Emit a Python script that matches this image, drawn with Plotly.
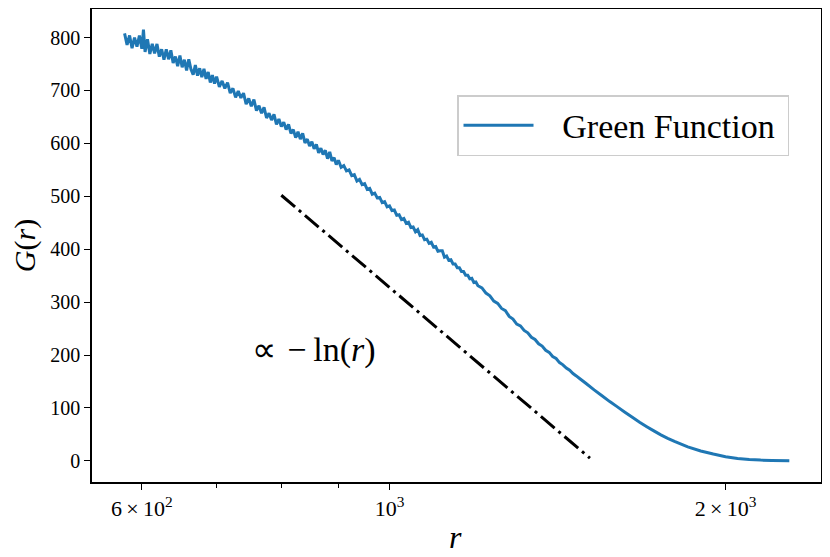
import plotly.graph_objects as go

# Green function samples
r_vals = [579, 582, 585, 588, 591, 594, 597, 600, 602, 604, 607, 610, 613, 616, 619, 622, 625, 628, 631, 634,
          637, 640, 643, 646, 649, 652, 655, 658, 661, 664, 667, 670, 673, 676, 679, 682, 685, 688, 691, 694,
          697, 700,
          704, 708, 712, 716, 720, 724, 728, 732, 736, 740, 744, 748, 752, 756, 760, 764, 768, 772, 776, 780,
          784, 788, 792, 796, 800, 804, 808, 812, 816, 820, 824, 828, 832, 836, 840, 844, 848, 852, 856, 860,
          864, 868, 872, 876, 880, 884, 888, 892, 896, 900,
          905, 910, 915, 920, 925, 930, 935, 940, 945, 950, 955, 960, 965, 970, 975, 980, 985, 990, 995, 1000,
          1005, 1010, 1015, 1020, 1025, 1030, 1035, 1040, 1045, 1050, 1055, 1060, 1065, 1070, 1075, 1080, 1085,
          1090, 1095, 1100, 1105, 1110, 1115, 1120, 1125, 1130, 1135, 1140, 1145, 1150, 1155, 1160, 1165, 1170,
          1175, 1180, 1185, 1190, 1195, 1200,
          1210, 1220, 1230, 1240, 1250, 1260, 1270, 1280, 1290, 1300, 1310, 1320, 1330, 1340, 1350, 1360, 1370,
          1380, 1390, 1400, 1410, 1420, 1430, 1440, 1450, 1460, 1470, 1480, 1490, 1500,
          1525, 1550, 1575, 1600, 1625, 1650, 1675, 1700, 1725, 1750, 1775, 1800, 1850, 1900, 1950, 2000, 2050,
          2100, 2150, 2200, 2281]
g_vals = [808, 786, 804, 780, 800, 783, 804, 779, 815, 773, 797, 769, 788, 770, 788, 764, 778, 758, 778, 759,
          776, 752, 764, 746, 766, 744, 758, 738, 759, 740, 730, 748, 728, 742, 725, 741, 722, 735, 715, 729,
          713, 726,
          707, 718, 704, 715, 695, 704, 687, 699, 686, 695, 674, 685, 670, 683, 662, 671, 657, 668, 648, 657,
          644, 655, 636, 646, 632, 640, 626, 636, 619, 626, 611, 622, 608, 619, 601, 608, 595, 603, 590, 598,
          582, 591, 579, 587, 571, 584, 567, 573, 560, 568,
          555, 558, 548, 550, 539, 541, 529, 532, 522, 524, 513, 515, 504, 506, 497, 498, 488, 490, 480, 482,
          473, 474, 464, 465, 456, 458, 449, 451, 441, 442, 433, 437, 426, 427, 418, 419, 411,
          413, 404, 405, 396, 397, 397, 385, 387, 379, 380, 372, 372, 365, 365, 358, 358, 351,
          351, 344, 345, 337, 338, 331,
          327, 317, 312, 302, 297.5, 288, 284, 273, 268, 258.5, 255, 246.4, 242, 233.5, 229.4, 221.2, 217,
          209, 205, 197.2, 193.5, 185.7, 181.5, 175.4, 171.2, 165.1, 160.5, 155.7, 150.9, 146.1,
          134.2, 123.1, 112, 102, 92, 82.5, 73.1, 64.6, 56.6, 49, 42.5, 36.6, 26.5, 18.7, 12.8, 7.8, 4.6,
          2.6, 1.4, 0.8, 0.3]

# Reference -ln(r) guide line
guide_r = [800, 1512]
guide_g = [502, 5]

x_tickvals = [600, 1000, 2000]
x_ticktext = ["6\u2009×\u200910<sup>2</sup>", "10<sup>3</sup>", "2\u2009×\u200910<sup>3</sup>"]
x_minor = [700, 800, 900]
y_tickvals = [0, 100, 200, 300, 400, 500, 600, 700, 800]

font_family = "Liberation Serif"

fig = go.Figure()
fig.add_trace(go.Scatter(x=r_vals, y=g_vals, mode="lines", name="\u2002\u2009Green Function\u2009",
                         line=dict(color="#1f77b4", width=3, simplify=False)))
fig.add_trace(go.Scatter(x=guide_r, y=guide_g, mode="lines", showlegend=False,
                         line=dict(color="black", width=3, dash="18px,5px,3px,5px")))

fig.add_annotation(x=2.932, y=209, xref="x", yref="y", text="∝\u2004\u2212\u2009ln(<i>r</i>)",
                   showarrow=False, font=dict(family=font_family, size=34, color="black"))
# x axis title
fig.add_annotation(x=0.498, y=-0.116, xref="paper", yref="paper", text="<i>r</i>",
                   showarrow=False, xanchor="center", yanchor="middle",
                   font=dict(family=font_family, size=32, color="black"))

fig.update_layout(
    width=822, height=549,
    margin=dict(l=84, r=9, t=1, b=75),
    paper_bgcolor="white", plot_bgcolor="white",
    font=dict(family=font_family, color="black"),
    showlegend=True,
    legend=dict(x=0.5007, y=0.818, xanchor="left", yanchor="top",
                bordercolor="#cccccc", borderwidth=1.5, bgcolor="white",
                font=dict(family=font_family, size=34), itemwidth=70),
)
fig.update_xaxes(type="log", range=[2.7335, 3.3865],
                 tickvals=x_tickvals, ticktext=x_ticktext,
                 tickfont=dict(family=font_family, size=22),
                 ticks="outside", ticklen=6, tickwidth=1.2, tickcolor="black",
                 minor=dict(tickvals=x_minor, ticks="outside", ticklen=4, tickwidth=1, tickcolor="black"),
                 showline=True, linecolor="black", linewidth=1.5, mirror=True,
                 showgrid=False, zeroline=False, automargin=False)
fig.update_yaxes(range=[-40, 854], tickvals=y_tickvals,
                 tickfont=dict(family=font_family, size=20),
                 ticks="outside", ticklen=6, tickwidth=1.2, tickcolor="black",
                 showline=True, linecolor="black", linewidth=1.5, mirror=True,
                 showgrid=False, zeroline=False, automargin=False,
                 title=dict(text="<i>G</i>(<i>r</i>)", font=dict(family=font_family, size=30, color="black"),
                            standoff=6))

fig.write_html("out.html")
